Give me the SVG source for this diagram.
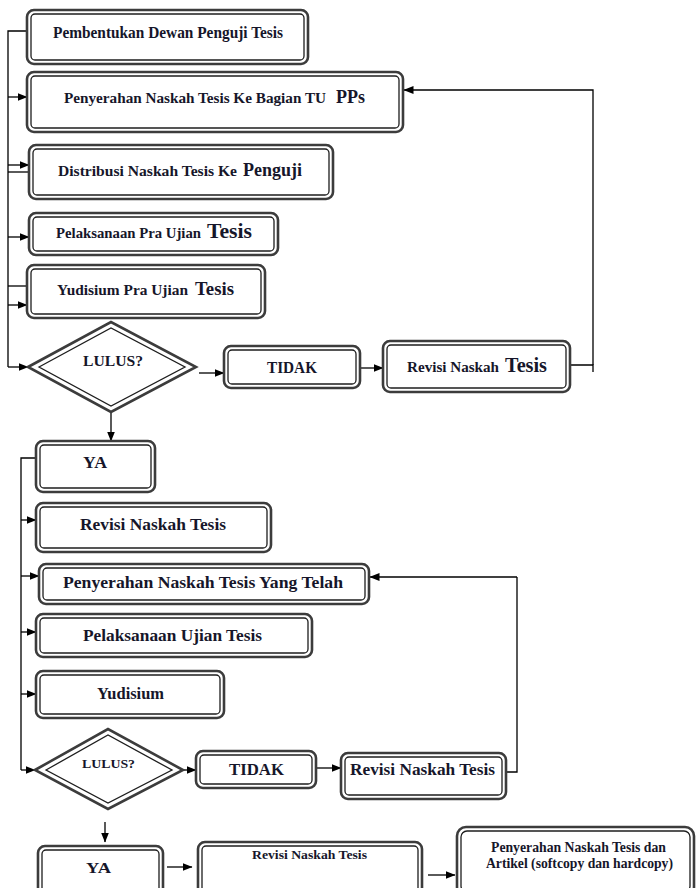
<svg xmlns="http://www.w3.org/2000/svg" width="696" height="888" viewBox="0 0 696 888">
<defs>
<style>
.o{fill:#fff;stroke:#3c3c3c;stroke-width:2.6}
.i{fill:none;stroke:#1e1e1e;stroke-width:1.3}
.t{font-family:"Liberation Serif","Times New Roman",serif;font-weight:bold;fill:#16162a}
.c{fill:none;stroke:#000;stroke-width:1.3}
.ca{fill:none;stroke:#000;stroke-width:1.3;marker-end:url(#a)}
</style>
<marker id="a" markerWidth="10" markerHeight="8" refX="9.5" refY="4" orient="auto" markerUnits="userSpaceOnUse"><path d="M0,0 L10,4 L0,8 z" fill="#000"/></marker>
</defs>
<rect width="696" height="888" fill="#fff"/>

<g id="connectors">
<path class="c" d="M27,31 H8 V367"/>
<path class="ca" d="M8,97 H27"/>
<path class="ca" d="M8,165 H29"/>
<path class="c" d="M8,172 H29"/>
<path class="ca" d="M8,237 H29"/>
<path class="c" d="M8,286 H27"/>
<path class="ca" d="M8,305 H27"/>
<path class="ca" d="M8,367 H28"/>
<path class="ca" d="M199,373 H224"/>
<path class="ca" d="M360,368 H383"/>
<path class="c" d="M570,365 H593 V372"/>
<path class="ca" d="M593,365 V90 H404"/>
<path class="ca" d="M111,413 V441"/>
<path class="c" d="M36,458 H21 V770"/>
<path class="ca" d="M21,520 H36"/>
<path class="ca" d="M21,576 H39"/>
<path class="ca" d="M21,632 H36"/>
<path class="ca" d="M21,694 H36"/>
<path class="ca" d="M21,770 H35"/>
<path class="ca" d="M183,770 H196"/>
<path class="ca" d="M316,768 H341"/>
<path class="c" d="M506,772 H517 V577"/>
<path class="ca" d="M517,577 H370"/>
<path class="ca" d="M105,822 V842"/>
<path class="ca" d="M167,867 H192"/>
<path class="ca" d="M428,875 H455"/>
</g>

<g id="n1"><rect class="o" x="27" y="10" width="281" height="54" rx="7"/><rect class="i" x="31" y="14" width="273" height="46" rx="4"/>
<text class="t" x="53" y="38" font-size="16" textLength="230" lengthAdjust="spacingAndGlyphs">Pembentukan Dewan Penguji Tesis</text></g>

<g id="n2"><rect class="o" x="27" y="72" width="376" height="60" rx="7"/><rect class="i" x="31" y="76" width="368" height="52" rx="4"/>
<text class="t" x="64" y="103" font-size="15" textLength="262" lengthAdjust="spacingAndGlyphs">Penyerahan Naskah Tesis Ke Bagian TU</text>
<text class="t" x="336" y="103" font-size="18" textLength="29" lengthAdjust="spacingAndGlyphs">PPs</text></g>

<g id="n3"><rect class="o" x="29" y="145" width="304" height="54" rx="7"/><rect class="i" x="33" y="149" width="296" height="46" rx="4"/>
<text class="t" x="58" y="176" font-size="15.3" textLength="179" lengthAdjust="spacingAndGlyphs">Distribusi Naskah Tesis Ke</text>
<text class="t" x="243" y="176" font-size="18.5" textLength="59" lengthAdjust="spacingAndGlyphs">Penguji</text></g>

<g id="n4"><rect class="o" x="29" y="213" width="249" height="42" rx="7"/><rect class="i" x="33" y="217" width="241" height="34" rx="4"/>
<text class="t" x="56" y="238" font-size="14.6" textLength="145" lengthAdjust="spacingAndGlyphs">Pelaksanaan Pra Ujian</text>
<text class="t" x="207" y="238" font-size="20" textLength="45" lengthAdjust="spacingAndGlyphs">Tesis</text></g>

<g id="n5"><rect class="o" x="27" y="265" width="238" height="53" rx="7"/><rect class="i" x="31" y="269" width="230" height="45" rx="4"/>
<text class="t" x="57" y="295" font-size="15" textLength="131" lengthAdjust="spacingAndGlyphs">Yudisium Pra Ujian</text>
<text class="t" x="195" y="295" font-size="19" textLength="39" lengthAdjust="spacingAndGlyphs">Tesis</text></g>

<g id="d1"><polygon class="o" points="28,367 111,322 196,367 111,412"/><polygon class="i" points="39,367 111,328 185,367 111,406"/>
<text class="t" x="83" y="366" font-size="15" textLength="60" lengthAdjust="spacingAndGlyphs">LULUS?</text></g>

<g id="n6"><rect class="o" x="224" y="346" width="136" height="42" rx="7"/><rect class="i" x="228" y="350" width="128" height="34" rx="4"/>
<text class="t" x="267" y="373" font-size="16" textLength="50" lengthAdjust="spacingAndGlyphs">TIDAK</text></g>

<g id="n7"><rect class="o" x="383" y="341" width="187" height="51" rx="7"/><rect class="i" x="387" y="345" width="179" height="43" rx="4"/>
<text class="t" x="407" y="372" font-size="15" textLength="92" lengthAdjust="spacingAndGlyphs">Revisi Naskah</text>
<text class="t" x="505" y="372" font-size="20" textLength="42" lengthAdjust="spacingAndGlyphs">Tesis</text></g>

<g id="n8"><rect class="o" x="36" y="441" width="119" height="51" rx="7"/><rect class="i" x="40" y="445" width="111" height="43" rx="4"/>
<text class="t" x="83" y="468" font-size="16" textLength="24" lengthAdjust="spacingAndGlyphs">YA</text></g>

<g id="n9"><rect class="o" x="36" y="503" width="235" height="49" rx="7"/><rect class="i" x="40" y="507" width="227" height="41" rx="4"/>
<text class="t" x="80" y="530" font-size="17" textLength="146" lengthAdjust="spacingAndGlyphs">Revisi Naskah Tesis</text></g>

<g id="n10"><rect class="o" x="39" y="564" width="330" height="40" rx="7"/><rect class="i" x="43" y="568" width="322" height="32" rx="4"/>
<text class="t" x="63" y="588" font-size="17" textLength="280" lengthAdjust="spacingAndGlyphs">Penyerahan Naskah Tesis Yang Telah</text></g>

<g id="n11"><rect class="o" x="36" y="614" width="276" height="43" rx="7"/><rect class="i" x="40" y="618" width="268" height="35" rx="4"/>
<text class="t" x="83" y="641" font-size="17" textLength="179" lengthAdjust="spacingAndGlyphs">Pelaksanaan Ujian Tesis</text></g>

<g id="n12"><rect class="o" x="36" y="671" width="188" height="47" rx="7"/><rect class="i" x="40" y="675" width="180" height="39" rx="4"/>
<text class="t" x="97" y="699" font-size="17" textLength="67" lengthAdjust="spacingAndGlyphs">Yudisium</text></g>

<g id="d2"><polygon class="o" points="35,770 108,729 183,770 108,809"/><polygon class="i" points="46,770 108,735 172,770 108,803"/>
<text class="t" x="82" y="768" font-size="13" textLength="53" lengthAdjust="spacingAndGlyphs">LULUS?</text></g>

<g id="n13"><rect class="o" x="196" y="751" width="120" height="37" rx="7"/><rect class="i" x="200" y="755" width="112" height="29" rx="4"/>
<text class="t" x="229" y="775" font-size="17" textLength="55" lengthAdjust="spacingAndGlyphs">TIDAK</text></g>

<g id="n14"><rect class="o" x="341" y="753" width="165" height="46" rx="7"/><rect class="i" x="345" y="757" width="157" height="38" rx="4"/>
<text class="t" x="350" y="775" font-size="17" textLength="145" lengthAdjust="spacingAndGlyphs">Revisi Naskah Tesis</text></g>

<g id="n15"><rect class="o" x="38" y="846" width="125" height="50" rx="7"/><rect class="i" x="42" y="850" width="117" height="42" rx="4"/>
<text class="t" x="86" y="873" font-size="15" textLength="25" lengthAdjust="spacingAndGlyphs">YA</text></g>

<g id="n16"><rect class="o" x="198" y="842" width="224" height="54" rx="7"/><rect class="i" x="202" y="846" width="216" height="46" rx="4"/>
<text class="t" x="252" y="859" font-size="13" textLength="115" lengthAdjust="spacingAndGlyphs">Revisi Naskah Tesis</text></g>

<g id="n17"><rect class="o" x="457" y="827" width="237" height="69" rx="9"/><rect class="i" x="461" y="831" width="229" height="61" rx="6"/>
<text class="t" x="491" y="852" font-size="14" textLength="175" lengthAdjust="spacingAndGlyphs">Penyerahan Naskah Tesis dan</text>
<text class="t" x="486" y="868" font-size="14" textLength="187" lengthAdjust="spacingAndGlyphs">Artikel (softcopy dan hardcopy)</text></g>
</svg>
